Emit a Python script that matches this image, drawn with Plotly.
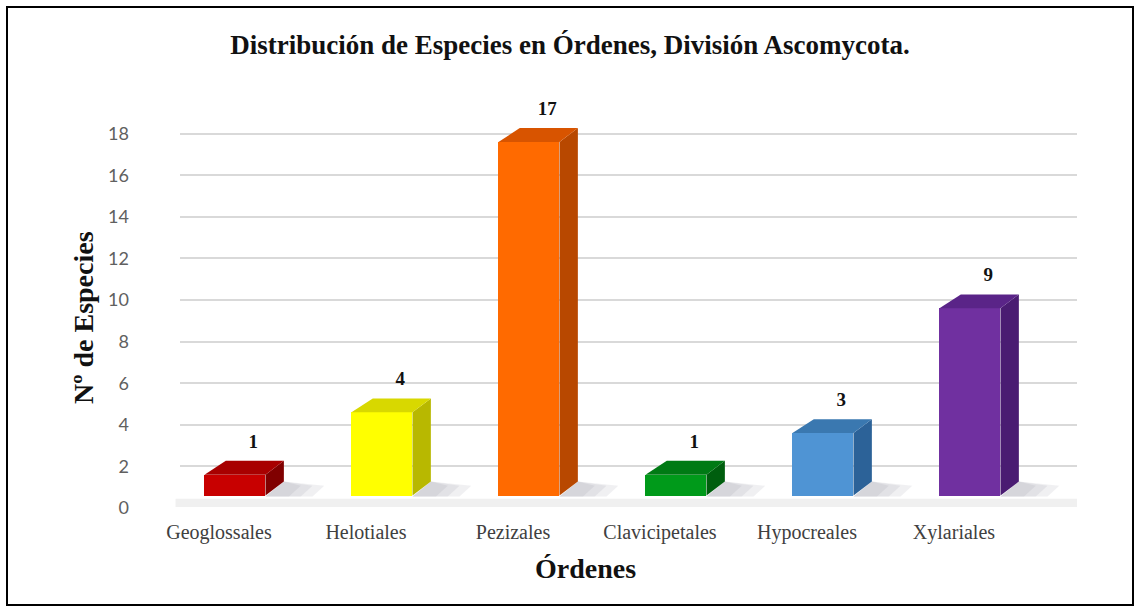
import plotly.graph_objects as go

# ---- data ----
categories = ["Geoglossales", "Helotiales", "Pezizales", "Clavicipetales", "Hypocreales", "Xylariales"]
species = [1, 4, 17, 1, 3, 9]
front_colors = ["#C80000", "#FFFF00", "#FF6A00", "#009A1A", "#4F94D4", "#7030A0"]
top_colors = ["#A80000", "#D8D800", "#D85400", "#007A14", "#3A78B0", "#5A2488"]
side_colors = ["#800000", "#B8B800", "#B84800", "#005E0E", "#2C6298", "#4A1C72"]
y_ticks = [0, 2, 4, 6, 8, 10, 12, 14, 16, 18]

# ---- 3D styling parameters (not data) ----
bar_w = 0.415      # front face width (category units)
dx = 0.125         # depth offset to the right
dy = 0.67          # depth offset upwards (value units)
base = 0.6         # floor offset of bar fronts
label_shift = 0.109

x_pos = list(range(len(categories)))

fig = go.Figure()

# soft floor shadows (drawn first)
for i, v in enumerate(species):
    xr = i + bar_w / 2
    for k, a in enumerate([0.10, 0.10, 0.10]):
        ext = 0.16 + 0.08 * k
        fig.add_trace(go.Scatter(
            x=[xr, xr + ext, xr + ext + 0.08, xr + dx, xr],
            y=[base - 0.05, base - 0.05, base + dy * 0.7, base + dy, base - 0.05],
            fill="toself", fillcolor=f"rgba(110,110,125,{a})", line=dict(width=0),
            mode="lines", hoverinfo="skip", showlegend=False,
        ))

# front faces
fig.add_trace(go.Bar(
    x=x_pos, y=species, base=[base] * len(species), width=bar_w,
    marker=dict(color=front_colors, line=dict(width=0)),
    hoverinfo="skip", showlegend=False,
))

# side and top faces computed from the values
for i, v in enumerate(species):
    xl = i - bar_w / 2
    xr = i + bar_w / 2
    top = base + v
    fig.add_trace(go.Scatter(
        x=[xr, xr, xr + dx, xr + dx, xr],
        y=[base, top, top + dy, base + dy, base],
        fill="toself", fillcolor=side_colors[i], line=dict(width=0),
        mode="lines", hoverinfo="skip", showlegend=False,
    ))
    fig.add_trace(go.Scatter(
        x=[xl, xr, xr + dx, xl + dx + 0.02, xl],
        y=[top, top, top + dy, top + dy, top],
        fill="toself", fillcolor=top_colors[i], line=dict(width=0),
        mode="lines", hoverinfo="skip", showlegend=False,
    ))

# value labels
fig.add_trace(go.Scatter(
    x=[i + dx for i in x_pos],
    y=[base + v + dy + 0.4 for v in species],
    mode="text", text=[str(v) for v in species], textposition="top center",
    textfont=dict(family="Liberation Serif", size=19, color="#111111", weight="bold"),
    hoverinfo="skip", showlegend=False,
))

fig.update_layout(
    width=1140, height=610,
    margin=dict(l=180, r=63, t=92, b=102),
    paper_bgcolor="white", plot_bgcolor="white",
    hovermode=False,
    title=dict(
        text="<b>Distribución de Especies en Órdenes, División Ascomycota.</b>",
        x=(570 - 180) / 897, xref="paper", xanchor="center",
        y=1 - 45 / 610, yanchor="middle",
        font=dict(family="Liberation Serif", size=27, color="#111111"),
    ),
    xaxis=dict(
        range=[-0.374, 5.728],
        tickmode="array",
        tickvals=[i - label_shift for i in x_pos],
        ticktext=categories,
        tickfont=dict(family="Liberation Serif", size=20, color="#404040"),
        showgrid=False, zeroline=False, showline=False, ticks="",
        ticklabelstandoff=10,
    ),
    yaxis=dict(
        range=[0, 20],
        tickmode="array", tickvals=y_ticks,
        tickfont=dict(family="Lato", size=18, color="#606060"),
        showgrid=True, gridcolor="#D9D9D9", gridwidth=1.5,
        zeroline=False, showline=False, ticks="",
        ticklabelstandoff=50,
    ),
    bargap=0,
    annotations=[
        dict(text="<b>Nº de Especies</b>", textangle=-90,
             xref="paper", yref="paper",
             x=(83 - 180) / 897, y=(508 - 318) / 416,
             xanchor="center", yanchor="middle", showarrow=False,
             font=dict(family="Liberation Serif", size=28, color="#111111")),
        dict(text="<b>Órdenes</b>",
             xref="paper", yref="paper",
             x=(585 - 180) / 897, y=(508 - 568) / 416,
             xanchor="center", yanchor="middle", showarrow=False,
             font=dict(family="Liberation Serif", size=28, color="#111111")),
    ],
    shapes=[
        dict(type="rect", xref="paper", yref="paper",
             x0=(7 - 180) / 897, x1=(1133 - 180) / 897,
             y0=(508 - 605) / 416, y1=(508 - 7) / 416,
             line=dict(color="#000000", width=2), fillcolor="rgba(0,0,0,0)",
             layer="above"),
        dict(type="rect", xref="paper", yref="y",
             x0=-0.005, x1=1.0, y0=0.05, y1=0.45,
             line=dict(width=0), fillcolor="#F0F0F0", layer="below"),
    ],
)

fig.write_html("out.html", config={"displayModeBar": False},
               post_script="document.body.style.margin='0';")
